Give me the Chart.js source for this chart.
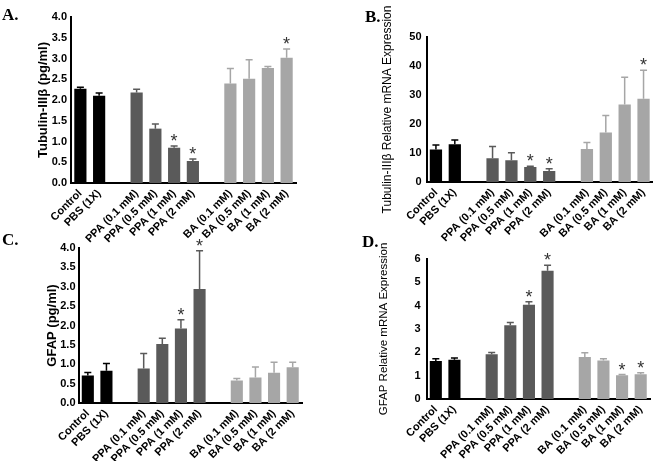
<!DOCTYPE html>
<html>
<head>
<meta charset="utf-8">
<script src="https://cdn.jsdelivr.net/npm/chart.js@4.4.1/dist/chart.umd.min.js"></script>
<style>
  html, body { margin: 0; padding: 0; background: #fff; }
  #fig { position: relative; width: 657px; height: 461px; overflow: hidden; }
  #fig canvas { position: absolute; }
  .tag { position: absolute; font: bold 17px/17px "Liberation Serif", "Times New Roman", serif; color: #000; }
</style>
</head>
<body>
<div id="fig">
  <canvas id="chartA" width="330" height="245" style="left:0;top:0"></canvas>
  <canvas id="chartB" width="327" height="245" style="left:330px;top:0"></canvas>
  <canvas id="chartC" width="330" height="233" style="left:0;top:228px"></canvas>
  <canvas id="chartD" width="327" height="233" style="left:330px;top:228px"></canvas>
  <div class="tag" style="left:2px;top:6px">A.</div>
  <div class="tag" style="left:365px;top:8px">B.</div>
  <div class="tag" style="left:2px;top:231px">C.</div>
  <div class="tag" style="left:362px;top:233px">D.</div>
</div>
<script>
/* Neuronal / glial marker panels A-D */

const FONT = '"Liberation Sans", Arial, sans-serif';

// empty slots ('') keep the gaps between the groups
const categories = ['Control', 'PBS (1X)', '',
  'PPA (0.1 mM)', 'PPA (0.5 mM)', 'PPA (1 mM)', 'PPA (2 mM)', '',
  'BA (0.1 mM)', 'BA (0.5 mM)', 'BA (1 mM)', 'BA (2 mM)'];

// A. Tubulin-IIIb protein (pg/ml)
const tubulinProt    = [2.27, 2.10, null, 2.18, 1.31, 0.85, 0.53, null, 2.40, 2.51, 2.77, 3.02];
const tubulinProtErr = [0.04, 0.07, null, 0.08, 0.11, 0.04, 0.05, null, 0.36, 0.46, 0.04, 0.21];
const tubulinProtSig = ['PPA (1 mM)', 'PPA (2 mM)', 'BA (2 mM)'];

// B. Tubulin-IIIb relative mRNA
const tubulinMrna    = [11.2, 13.0, null, 8.2, 7.5, 5.2, 3.8, null, 11.4, 17.1, 26.7, 28.7];
const tubulinMrnaErr = [1.6, 1.5, null, 4.0, 2.6, 0.2, 0.8, null, 2.2, 5.8, 9.4, 9.8];
const tubulinMrnaSig = ['PPA (1 mM)', 'PPA (2 mM)', 'BA (2 mM)'];

// C. GFAP protein (pg/ml)
const gfapProt    = [0.71, 0.83, null, 0.89, 1.52, 1.92, 2.94, null, 0.58, 0.66, 0.78, 0.92];
const gfapProtErr = [0.08, 0.19, null, 0.39, 0.15, 0.23, 0.99, null, 0.05, 0.27, 0.27, 0.13];
const gfapProtSig = ['PPA (1 mM)', 'PPA (2 mM)'];

// D. GFAP relative mRNA
const gfapMrna    = [1.63, 1.68, null, 1.92, 3.16, 4.04, 5.50, null, 1.80, 1.65, 1.02, 1.06];
const gfapMrnaErr = [0.10, 0.08, null, 0.07, 0.12, 0.13, 0.23, null, 0.18, 0.08, 0.03, 0.07];
const gfapMrnaSig = ['PPA (1 mM)', 'PPA (2 mM)', 'BA (1 mM)', 'BA (2 mM)'];

const barColors = categories.map(c =>
  c.startsWith('PPA') ? '#5a5a5a' : c.startsWith('BA') ? '#a6a6a6' : '#000000');

// upper error bar + significance star, drawn through the y scale
const errorBars = {
  id: 'errorBars',
  afterDatasetsDraw(chart) {
    const ds = chart.data.datasets[0];
    const yScale = chart.scales.y;
    const ctx = chart.ctx;
    ctx.save();
    chart.getDatasetMeta(0).data.forEach((bar, i) => {
      const v = ds.data[i];
      if (v == null) return;
      const top = yScale.getPixelForValue(v + ds.errors[i]);
      ctx.strokeStyle = ds.backgroundColor[i];
      ctx.lineWidth = 1.5;
      ctx.beginPath();
      ctx.moveTo(bar.x, bar.y);
      ctx.lineTo(bar.x, top);
      ctx.moveTo(bar.x - 3.5, top);
      ctx.lineTo(bar.x + 3.5, top);
      ctx.stroke();
      if (ds.stars.includes(chart.data.labels[i])) {
        ctx.fillStyle = '#333';
        ctx.font = '18px ' + FONT;
        ctx.textAlign = 'center';
        ctx.textBaseline = 'alphabetic';
        ctx.fillText('*', bar.x, top + 1);
      }
    });
    ctx.restore();
  }
};

function makePanel(id, p) {
  return new Chart(document.getElementById(id), {
    type: 'bar',
    data: {
      labels: categories,
      datasets: [{
        data: p.values,
        errors: p.errors,
        stars: p.stars,
        backgroundColor: barColors,
        borderWidth: 0,
        barPercentage: 0.65,
        categoryPercentage: 1
      }]
    },
    options: {
      responsive: false,
      animation: false,
      layout: { padding: { left: p.padLeft, top: p.padTop, right: p.padRight, bottom: 0 } },
      plugins: { legend: { display: false }, tooltip: { enabled: false } },
      scales: {
        x: {
          grid: { display: false, drawTicks: false },
          border: { color: '#000', width: 2 },
          ticks: {
            color: '#000', autoSkip: false, maxRotation: 45, minRotation: 45, padding: 4,
            font: { family: FONT, size: 11, weight: 'bold' }
          },
          afterFit: s => { s.height = p.xHeight; }
        },
        y: {
          min: 0, max: p.max,
          grid: { display: false, drawTicks: false },
          border: { color: '#000', width: 2 },
          ticks: {
            stepSize: p.step, color: '#000', padding: p.tickPad,
            font: { family: FONT, size: 11, weight: 'bold' },
            callback: p.fmt
          },
          title: {
            display: true, text: p.title, color: '#000', padding: 0,
            font: { family: FONT, size: p.titleSize, weight: p.titleWeight }
          },
          afterFit: s => { s.width = p.yWidth; }
        }
      }
    },
    plugins: [errorBars]
  });
}

const oneDecimal = v => v.toFixed(1);

makePanel('chartA', {
  values: tubulinProt, errors: tubulinProtErr, stars: tubulinProtSig,
  max: 4, step: 0.5, fmt: oneDecimal,
  title: 'Tubulin-IIIβ (pg/ml)', titleSize: 13, titleWeight: 'bold',
  padLeft: 36, padTop: 17, padRight: 34, yWidth: 35, xHeight: 62, tickPad: 4
});

makePanel('chartB', {
  values: tubulinMrna, errors: tubulinMrnaErr, stars: tubulinMrnaSig,
  max: 50, step: 10, fmt: v => v,
  title: 'Tubulin-IIIβ Relative mRNA Expression', titleSize: 12, titleWeight: 'normal',
  padLeft: 50, padTop: 37, padRight: 3, yWidth: 46.5, xHeight: 63, tickPad: 5
});

makePanel('chartC', {
  values: gfapProt, errors: gfapProtErr, stars: gfapProtSig,
  max: 4, step: 0.5, fmt: oneDecimal,
  title: 'GFAP (pg/ml)', titleSize: 13, titleWeight: 'bold',
  padLeft: 45, padTop: 20, padRight: 28, yWidth: 33.5, xHeight: 58, tickPad: 3
});

makePanel('chartD', {
  values: gfapMrna, errors: gfapMrnaErr, stars: gfapMrnaSig,
  max: 6, step: 1, fmt: v => v,
  title: 'GFAP Relative mRNA Expression', titleSize: 11.5, titleWeight: 'normal',
  padLeft: 46.5, padTop: 31, padRight: 7, yWidth: 50, xHeight: 62, tickPad: 6
});
</script>
</body>
</html>
